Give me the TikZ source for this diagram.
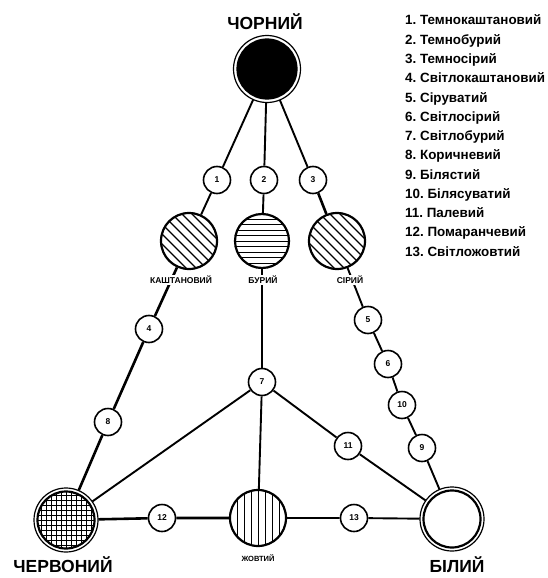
\documentclass[tikz,border=0pt]{standalone}
\usepackage{fontspec}
\setmainfont{Liberation Sans}
\frenchspacing
\begin{document}
\begin{tikzpicture}[x=1pt,y=-1pt,
  big/.style={circle,draw,line width=2.2pt,inner sep=0pt,minimum size=#1},
  ringed/.style={outer sep=4pt},
  small/.style={circle,draw,fill=white,line width=1.6pt,inner sep=0pt,minimum size=27pt,font=\bfseries\fontsize{8.5}{9}\selectfont},
  conn/.style={line width=1.9pt},
  conntwo/.style={line width=2.6pt},
  ring/.style={line width=1.2pt},
  lbl/.style={font=\bfseries\fontsize{8.5}{9}\selectfont,fill=white,inner sep=1pt},
  biglbl/.style={font=\bfseries\fontsize{17.5}{20}\selectfont,inner sep=0pt},
  legend/.style={font=\bfseries\fontsize{13.4}{15}\selectfont,inner sep=0pt,anchor=base west},
  hatchD/.style={path picture={\foreach \k in {-60,-50,...,60}{\draw[line width=1.1pt] ([xshift=\k pt]path picture bounding box.center) ++(-40pt,40pt) -- ++(80pt,-80pt);}}},
  hatchH/.style={path picture={\foreach \k in {-33,-27.5,...,33}{\draw[line width=1pt] ([yshift=\k pt]path picture bounding box.center) ++(-40pt,0pt) -- ++(80pt,0pt);}}},
  hatchV/.style={path picture={\foreach \k in {-35,-28,...,35}{\draw[line width=1pt] ([xshift=\k pt]path picture bounding box.center) ++(0pt,-40pt) -- ++(0pt,80pt);}}},
  hatchG/.style={path picture={\foreach \k in {-35,-30,...,35}{\draw[line width=0.85pt] ([xshift=\k pt]path picture bounding box.center) ++(0pt,-40pt) -- ++(0pt,80pt); \draw[line width=0.85pt] ([yshift=\k pt]path picture bounding box.center) ++(-40pt,0pt) -- ++(80pt,0pt);}}}
]
\useasboundingbox (0,0) rectangle (547,578);

% main circles
\node[big=59pt,fill=black,ringed] (blk) at (267,69) {};
\draw[ring] (blk.center) circle[radius=33.5pt];
\node[big=56pt,hatchD] (kas) at (189,241) {};
\node[big=54pt,hatchH] (bur) at (262,241) {};
\node[big=56pt,hatchD] (sir) at (337,241) {};
\node[big=57pt,hatchG,ringed] (red) at (66,520) {};
\draw[ring] (red.center) circle[radius=32pt];
\node[big=56pt,hatchV] (yel) at (258,518) {};
\node[big=57pt,ringed] (wht) at (452,519) {};
\draw[ring] (wht.center) circle[radius=32pt];

% small circles
\node[small] (s1) at (217,180) {1};
\node[small] (s2) at (264,180) {2};
\node[small] (s3) at (313,180) {3};
\node[small] (s4) at (149,329) {4};
\node[small] (s5) at (368,320) {5};
\node[small] (s6) at (388,364) {6};
\node[small] (s7) at (262,382) {7};
\node[small] (s10) at (402,405) {10};
\node[small] (s8) at (108,422) {8};
\node[small] (s11) at (348,446) {11};
\node[small] (s9) at (422,448) {9};
\node[small] (s12) at (162,518) {12};
\node[small] (s13) at (354,518) {13};

% connectors
\draw[conn] (blk) -- (s1) -- (kas);
\draw[conn] (blk) -- (s2) -- (bur);
\draw[conn] (blk) -- (s3);
\draw[conntwo] (s3) -- (sir);
\draw[conntwo] (kas) -- (s4) -- (s8) -- (red);
\draw[conntwo] (bur) -- (s7);
\draw[conn] (s7) -- (red);
\draw[conn] (s7) -- (yel);
\draw[conn] (s7) -- (s11) -- (wht);
\draw[conn] (sir) -- (s5) -- (s6) -- (s10) -- (s9) -- (wht);
\draw[conntwo] (red) -- (s12) -- (yel);
\draw[conn] (yel) -- (s13) -- (wht);

% labels
\node[lbl] (lkas) at (181,280) {КАШТАНОВИЙ};
\node[lbl] (lbur) at (263,280) {БУРИЙ};
\node[lbl] (lsir) at (350,280) {СІРИЙ};
\node[lbl,font=\bfseries\fontsize{7.5}{8}\selectfont] (lyel) at (258,558) {ЖОВТИЙ};
\node[biglbl] (lblk) at (265,22) {ЧОРНИЙ};
\node[biglbl] (lred) at (63,565) {ЧЕРВОНИЙ};
\node[biglbl] (lwht) at (457,565) {БІЛИЙ};

% legend
\foreach \t [count=\i] in {Темнокаштановий,Темнобурий,Темносірий,Світлокаштановий,Сіруватий,Світлосірий,Світлобурий,Коричневий,Білястий,Білясуватий,Палевий,Помаранчевий,Світложовтий}
  \node[legend] (leg\i) at (405,{25+19.25*(\i-1)}) {\i. \t};
\end{tikzpicture}
\end{document}
